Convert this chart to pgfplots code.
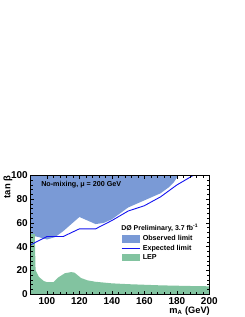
\documentclass[border=0pt]{standalone}
\usepackage{pgfplots}
\pgfplotsset{compat=1.18}
\usepackage{fontspec}
\setmainfont{Liberation Sans}
\definecolor{obsblue}{RGB}{122,154,214}
\definecolor{lepgreen}{RGB}{130,195,160}
\definecolor{expblue}{RGB}{20,20,240}
\pgfplotsset{
  patchleg/.style={legend image code/.code={\fill[##1] (0bp,-3.75bp) rectangle (18bp,3.75bp);}},
  lineleg/.style={legend image code/.code={\draw[##1] (0bp,0bp) -- (18bp,0bp);}},
}
\begin{document}
\begin{tikzpicture}
\begin{axis}[
  scale only axis,
  width=178.6bp, height=118.5bp,
  xmin=90, xmax=200, ymin=0, ymax=100,
  xtick={100,120,...,200}, ytick={0,20,...,100},
  minor tick num=4,
  major tick length=3.5bp, minor tick length=2bp,
  tick style={black, line width=0.5bp},
  axis line style={line width=0.8bp},
  axis on top,
  /pgf/number format/assume math mode=true,
  ticklabel style={font=\bfseries\fontsize{10}{12}\selectfont},
  xticklabel style={inner sep=0.8bp, yshift=-2.6bp},
  yticklabel style={xshift=0.5bp},
  xlabel={m$_{\mbox{\fontsize{6}{7}\selectfont A}}$ (GeV)},
  ylabel={tan β},
  xlabel style={at={(rel axis cs:1.004,-0.163)}, anchor=base east, font=\bfseries\fontsize{9.3}{11}\selectfont, inner sep=0pt},
  ylabel style={at={(rel axis cs:-0.127,1)}, anchor=east, font=\bfseries\fontsize{9.5}{11}\selectfont, inner sep=0pt},
  legend style={at={(rel axis cs:0.506,0.5)}, anchor=north west, draw=none, fill=none,
    inner sep=0pt, outer sep=0pt, row sep=1.2bp, column sep=2bp,
    nodes={inner sep=0.8bp, font=\bfseries\fontsize{7.2}{8}\selectfont}},
  legend cell align=left,
]
\addplot[fill=obsblue, draw=none, patchleg]
  coordinates {(90,100) (90,49.5) (95,48) (100,46) (105,48) (110,53) (115,59) (120,65)
   (125,62) (130,59) (135,60) (140,63) (145,68) (150,73) (155,76) (160,79) (165,82)
   (170,85) (175,90) (178,94) (181,100)} -- cycle;
\addlegendentry{Observed limit}
\addplot[fill=lepgreen, draw=none, forget plot]
  coordinates {(90,0) (90,50.5) (92.5,50.5) (93,20) (95,14.5) (98,11) (100,10) (104,10)
   (107,14) (111,17.5) (115,18.5) (117,18) (121,13.5) (125,11.5) (130,10.3) (140,9)
   (150,8.3) (160,7.8) (170,7.3) (180,7) (190,6.7) (200,6.5) (200,0)} -- cycle;
\addplot[expblue, line width=0.9bp, mark=none, lineleg]
  coordinates {(90,41.5) (100,48.5) (110,48.5) (120,55) (130,55) (140,62) (150,70)
   (160,74.5) (170,82) (180,92) (190,100)};
\addlegendentry{Expected limit}
\addlegendimage{fill=lepgreen, draw=none, patchleg}
\addlegendentry{LEP}
\node[anchor=west, inner sep=0pt, font=\bfseries\fontsize{7.2}{8}\selectfont]
  at (rel axis cs:0.058,0.92) {No-mixing, μ = 200 GeV};
\node[anchor=west, inner sep=0pt, font=\bfseries\fontsize{7}{8}\selectfont]
  at (rel axis cs:0.506,0.56) {DØ Preliminary, 3.7 fb$^{\mbox{\fontsize{5}{6}\selectfont -1}}$};
\end{axis}
\pgfresetboundingbox
\path[use as bounding box] (-30.7bp,-23bp) rectangle (214.3bp,294bp);
\end{tikzpicture}
\end{document}
